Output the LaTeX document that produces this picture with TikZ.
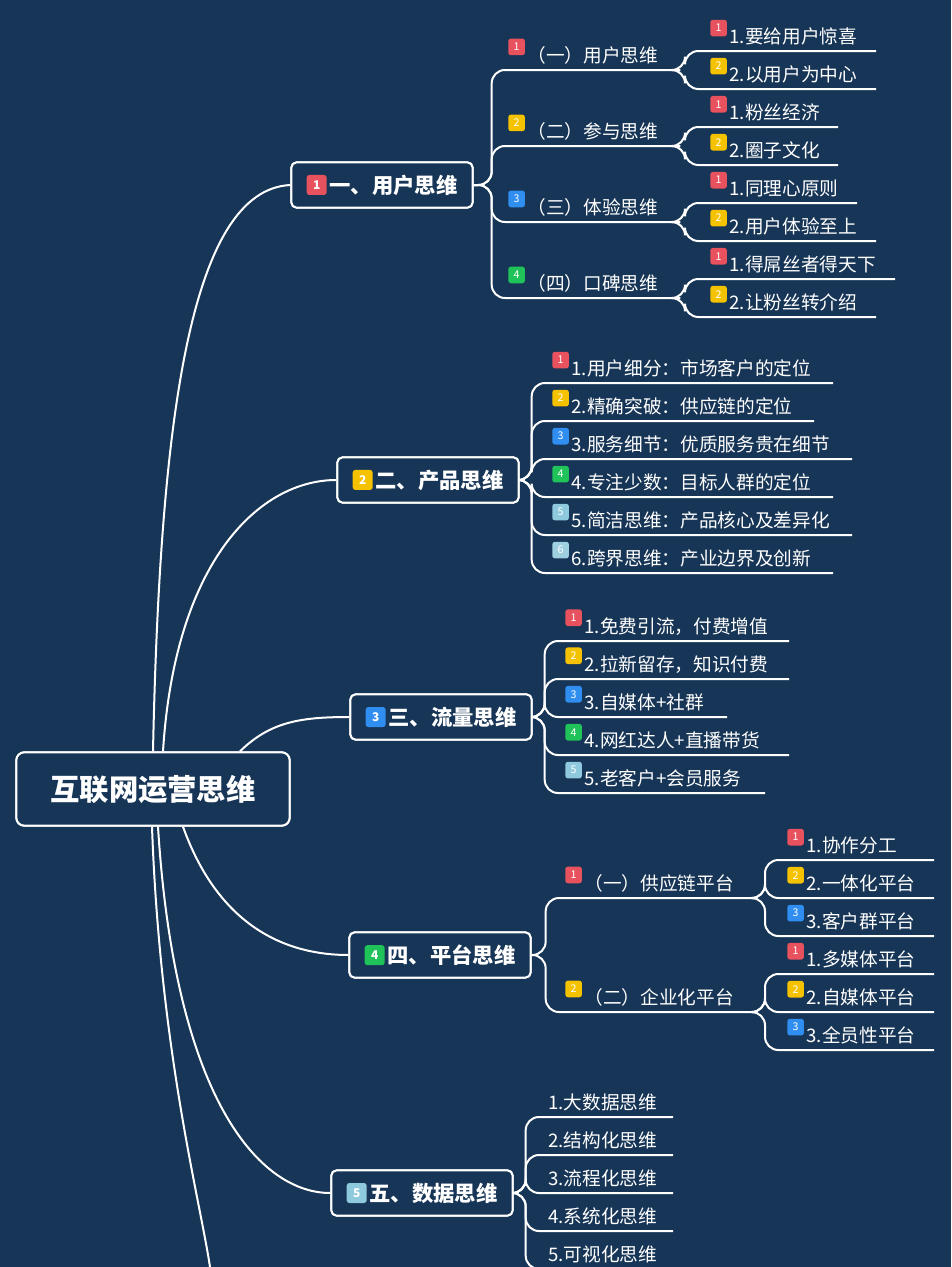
\documentclass[tikz,border=0pt]{standalone}
\usepackage{fontspec}
\setmainfont{Noto Sans CJK SC}
\usetikzlibrary{calc}
\definecolor{bg}{HTML}{173556}
\definecolor{bred}{HTML}{E8525E}
\definecolor{byel}{HTML}{F5C200}
\definecolor{bblu}{HTML}{2F8EF0}
\definecolor{bgrn}{HTML}{1FC35A}
\definecolor{blt}{HTML}{8EC9DD}
\definecolor{blt2}{HTML}{9FD0E0}
\newcommand\bdg[2]{\tikz[baseline=-0.38em]\node[fill=#1,rounded corners=2pt,text=white,font=\fontsize{8}{8}\selectfont,minimum size=12.5pt,inner sep=0pt]{#2};\hspace{2pt}}
\newcommand\bdgL[2]{\tikz[baseline=-0.38em]\node[fill=#1,rounded corners=2pt,text=white,font=\fontsize{9}{9}\selectfont,minimum size=15pt,inner sep=0pt]{#2};\hspace{2pt}}
% name, parent, bracket offset, ul y, text x, end x, text
\newcommand\kid[7]{%
  \node[kid,anchor=south west] (#1) at (#5,#4) {#7};
  \coordinate (#1e) at (#6,#4);
  \draw[conn,rounded corners=10pt] (#2) -- ++(#3,0) |- (#1e);
}
\begin{document}
\begin{tikzpicture}[x=0.75pt,y=-0.75pt,
  conn/.style={draw=white,line width=1.5pt},
  kid/.style={text=white,font=\fontsize{14}{16}\selectfont,inner xsep=0pt,inner ysep=4pt},
  l1box/.style={draw=white,line width=1.5pt,rounded corners=4pt,text=white,font=\fontsize{16}{18}\selectfont\bfseries,minimum width=136pt,minimum height=34pt,fill=bg},
  rootbox/.style={draw=white,line width=1.5pt,rounded corners=6pt,text=white,font=\fontsize{22}{24}\selectfont\bfseries,minimum width=205pt,minimum height=55pt,fill=bg}]
\fill[bg] (0,0) rectangle (951,1267);
\useasboundingbox (0,0) rectangle (951,1267);

% root connectors (drawn first)
\node[rootbox] (root) at (153,789) {互联网运营思维};
\node[l1box] (b1) at (382,185) {\bdgL{bred}{1}一、用户思维};
\node[l1box] (b2) at (428,480) {\bdgL{byel}{2}二、产品思维};
\node[l1box] (b3) at (441,717) {\bdgL{bblu}{3}三、流量思维};
\node[l1box] (b4) at (440,955) {\bdgL{bgrn}{4}四、平台思维};
\node[l1box] (b5) at (422,1193) {\bdgL{blt}{5}五、数据思维};
\coordinate (off) at (210,1267);

\begin{scope}[on background layer/.style={}]
\draw[conn] (root.north) .. controls (160,420) and (190,190) .. (b1.west);
\draw[conn] ($(root.north)+(10,0)$) .. controls (175,560) and (260,480) .. (b2.west);
\draw[conn] ($(root.north)+(87,0)$) .. controls (270,722) and (300,717) .. (b3.west);
\draw[conn] ($(root.south)+(30,0)$) .. controls (220,930) and (290,955) .. (b4.west);
\draw[conn] ($(root.south)+(5,0)$) .. controls (175,1100) and (260,1193) .. (b5.west);
\draw[conn] ($(root.south)+(-1,0)$) .. controls (160,1050) and (200,1200) .. (off);
\end{scope}

% branch 1
\kid{c11}{b1.east}{18}{70}{508}{680}{\bdg{bred}{1}（一）用户思维}
\kid{c12}{b1.east}{18}{146}{508}{680}{\bdg{byel}{2}（二）参与思维}
\kid{c13}{b1.east}{18}{222}{508}{680}{\bdg{bblu}{3}（三）体验思维}
\kid{c14}{b1.east}{18}{298}{508}{680}{\bdg{bgrn}{4}（四）口碑思维}
\kid{d111}{c11e}{5}{51}{710}{876}{\bdg{bred}{1}1.要给用户惊喜}
\kid{d112}{c11e}{5}{89}{710}{876}{\bdg{byel}{2}2.以用户为中心}
\kid{d121}{c12e}{5}{127}{710}{838}{\bdg{bred}{1}1.粉丝经济}
\kid{d122}{c12e}{5}{165}{710}{838}{\bdg{byel}{2}2.圈子文化}
\kid{d131}{c13e}{5}{203}{710}{857}{\bdg{bred}{1}1.同理心原则}
\kid{d132}{c13e}{5}{241}{710}{876}{\bdg{byel}{2}2.用户体验至上}
\kid{d141}{c14e}{5}{279}{710}{895}{\bdg{bred}{1}1.得屌丝者得天下}
\kid{d142}{c14e}{5}{317}{710}{876}{\bdg{byel}{2}2.让粉丝转介绍}

% branch 2
\kid{c21}{b2.east}{12}{383}{552}{833}{\bdg{bred}{1}1.用户细分：市场客户的定位}
\kid{c22}{b2.east}{12}{421}{552}{814}{\bdg{byel}{2}2.精确突破：供应链的定位}
\kid{c23}{b2.east}{12}{459}{552}{852}{\bdg{bblu}{3}3.服务细节：优质服务贵在细节}
\kid{c24}{b2.east}{12}{497}{552}{833}{\bdg{bgrn}{4}4.专注少数：目标人群的定位}
\kid{c25}{b2.east}{12}{535}{552}{852}{\bdg{blt}{5}5.简洁思维：产品核心及差异化}
\kid{c26}{b2.east}{12}{573}{552}{833}{\bdg{blt2}{6}6.跨界思维：产业边界及创新}

% branch 3
\kid{c31}{b3.east}{12}{641}{565}{789}{\bdg{bred}{1}1.免费引流，付费增值}
\kid{c32}{b3.east}{12}{679}{565}{789}{\bdg{byel}{2}2.拉新留存，知识付费}
\kid{c33}{b3.east}{12}{717}{565}{727}{\bdg{bblu}{3}3.自媒体+社群}
\kid{c34}{b3.east}{12}{755}{565}{789}{\bdg{bgrn}{4}4.网红达人+直播带货}
\kid{c35}{b3.east}{12}{793}{565}{765}{\bdg{blt}{5}5.老客户+会员服务}

% branch 4
\kid{c41}{b4.east}{14}{898}{565}{757}{\bdg{bred}{1}（一）供应链平台}
\kid{c42}{b4.east}{14}{1012}{565}{757}{\bdg{byel}{2}（二）企业化平台}
\kid{d411}{c41e}{8}{860}{787}{934}{\bdg{bred}{1}1.协作分工}
\kid{d412}{c41e}{8}{898}{787}{934}{\bdg{byel}{2}2.一体化平台}
\kid{d413}{c41e}{8}{936}{787}{934}{\bdg{bblu}{3}3.客户群平台}
\kid{d421}{c42e}{8}{974}{787}{934}{\bdg{bred}{1}1.多媒体平台}
\kid{d422}{c42e}{8}{1012}{787}{934}{\bdg{byel}{2}2.自媒体平台}
\kid{d423}{c42e}{8}{1050}{787}{934}{\bdg{bblu}{3}3.全员性平台}

% branch 5
\kid{c51}{b5.east}{12}{1117}{548}{673}{1.大数据思维}
\kid{c52}{b5.east}{12}{1155}{548}{673}{2.结构化思维}
\kid{c53}{b5.east}{12}{1193}{548}{673}{3.流程化思维}
\kid{c54}{b5.east}{12}{1231}{548}{673}{4.系统化思维}
\kid{c55}{b5.east}{12}{1269}{548}{673}{5.可视化思维}

% redraw boxes on top of connectors
\node[rootbox] at (root) {互联网运营思维};
\node[l1box] at (b1) {\bdgL{bred}{1}一、用户思维};
\node[l1box] at (b2) {\bdgL{byel}{2}二、产品思维};
\node[l1box] at (b3) {\bdgL{bblu}{3}三、流量思维};
\node[l1box] at (b4) {\bdgL{bgrn}{4}四、平台思维};
\node[l1box] at (b5) {\bdgL{blt}{5}五、数据思维};
\end{tikzpicture}
\end{document}
